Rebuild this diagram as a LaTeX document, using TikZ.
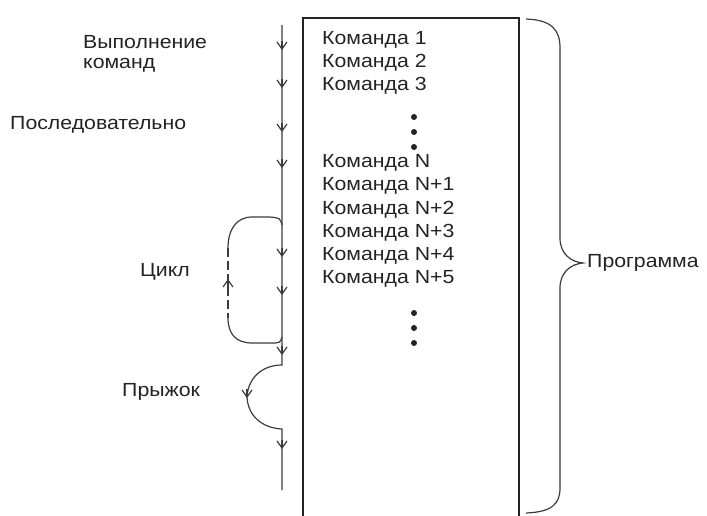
\documentclass[tikz,border=0pt]{standalone}
\usepackage{fontspec}
\setmainfont{Liberation Sans}[FakeStretch=1.12]
\usepackage{xcolor}
\usepackage{tikz}
\usetikzlibrary{arrows.meta, positioning, calc}
\definecolor{ProgInk}{RGB}{35, 35, 35}
\definecolor{ProgLine}{RGB}{60, 60, 60}

\tikzset{
  cmd/.style={anchor=west, inner sep=0pt, font=\fontsize{19}{21}\selectfont, text=ProgInk},
  flow/.style={draw=ProgLine, line width=1.2pt},
  flowtip/.style={draw=ProgLine, line width=1.2pt, -{Straight Barb[length=7pt, width=10pt]}},
  dotmark/.style={circle, fill=ProgInk, inner sep=0pt, minimum size=6pt},
}

\begin{document}
\begin{tikzpicture}[x=1pt, y=-1pt]
    \useasboundingbox (0,0) rectangle (707,515);

    % program box, open at the bottom
    \draw[ProgInk, line width=2.6pt] (303,520) -- (303,18) -- (519,18) -- (519,520);

    % commands
    \foreach \t/\y [count=\i] in {1/40, 2/63, 3/86}
      \node[cmd] (c\i) at (322,\y) {Команда \t};
    \foreach \t/\y [count=\i] in {N/163, N+1/186, N+2/210, N+3/233, N+4/256, N+5/279}
      \node[cmd] (n\i) at (322,\y) {Команда \t};
    \foreach \y [count=\i] in {117, 132, 147, 313, 328, 343}
      \node[dotmark] (dot\i) at (414,\y) {};

    % brace
    \draw[ProgLine, line width=1.2pt] (526,19) .. controls (552,20) and (560,30) .. (560,48)
      -- (560,238) .. controls (560,254) and (571,262) .. (583,263)
      .. controls (571,264) and (560,272) .. (560,288)
      -- (560,488) .. controls (560,504) and (552,512) .. (526,513);
    \node[cmd] (prog) at (587,263) {Программа};

    % left labels
    \node[cmd] (exec) at (83,42) {Выполнение};
    \node[cmd] (exec2) at (83,65) {команд};
    \node[cmd] (seq) at (10,125) {Последовательно};
    \node[cmd] (loop) at (140,272) {Цикл};
    \node[cmd] (jump) at (122,392) {Прыжок};

    % flow of execution
    \coordinate (start) at (282,25);
    \coordinate (jumpout) at (282,365);
    \coordinate (jumpleft) at (247,397);
    \coordinate (jumpin) at (282,429);
    \coordinate (stop) at (282,490);
    \draw[flow] (start) -- (jumpout)
      .. controls (262,365) and (248,378) .. (jumpleft)
      .. controls (248,416) and (262,428) .. (jumpin) -- (stop);

    % loop
    \coordinate (looptop) at (282,225);
    \coordinate (loopbot) at (282,337);
    \draw[flow] (looptop) .. controls (280,218) .. (270,217) -- (252,217)
      .. controls (236,217) and (228,230) .. (228,248);
    \draw[flow, dash pattern=on 9pt off 4pt] (228,248) -- (228,318);
    \draw[flow] (228,318) .. controls (228,334) and (236,343) .. (252,343) -- (270,343)
      .. controls (280,343) .. (loopbot);
    \draw[flowtip] (228,290) -- (228,279);

    % arrow heads along the flow
    \foreach \y in {50, 88, 132, 168, 257, 295, 355, 449}
      \draw[flowtip] (282,\y-9) -- (282,\y);
    \draw[flowtip] (247,389) -- (247,398);
\end{tikzpicture}
\end{document}
